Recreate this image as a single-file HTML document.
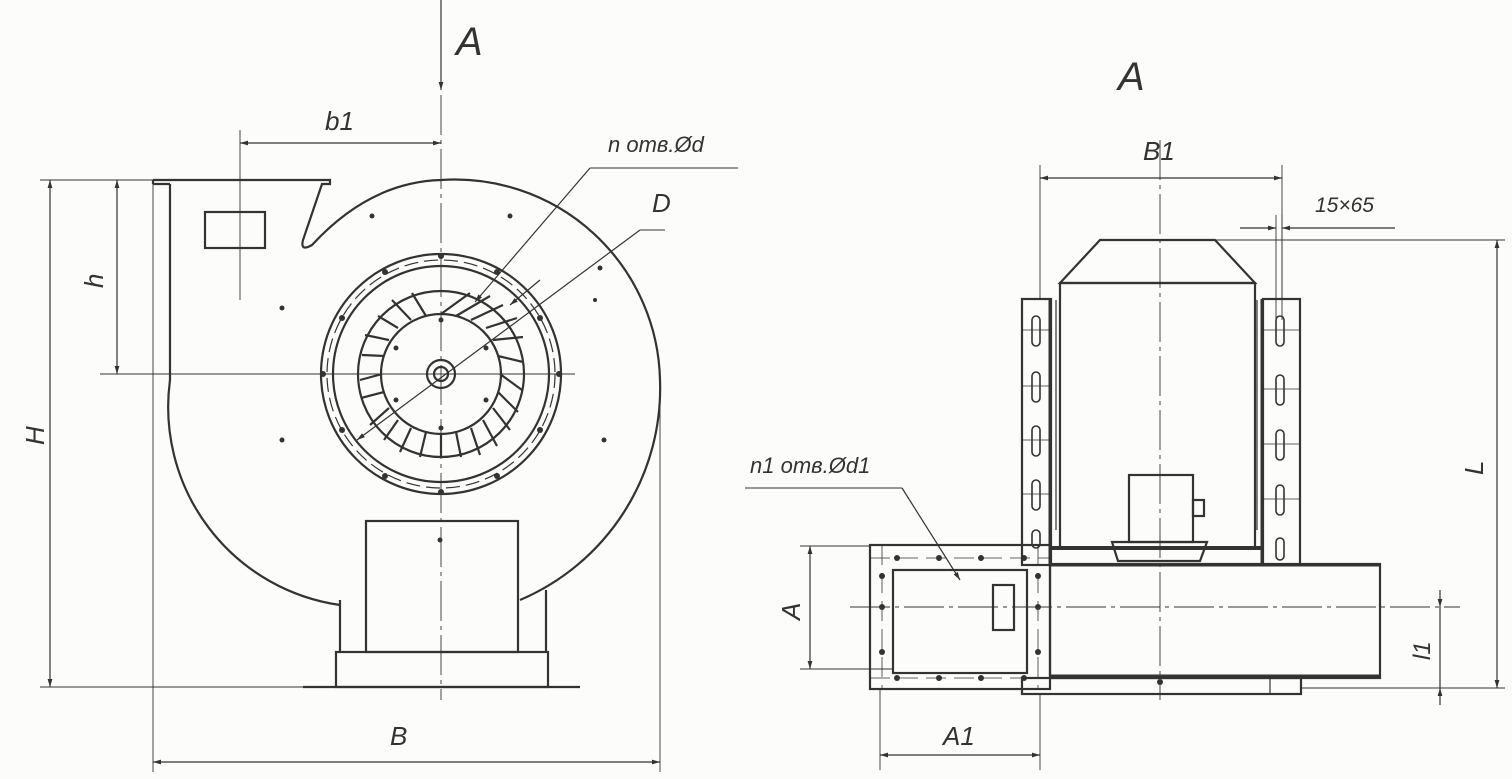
<!DOCTYPE html>
<html><head><meta charset="utf-8"><style>
html,body{margin:0;padding:0;background:#fcfcfa;}
svg{display:block;}
text{font-family:"Liberation Sans","DejaVu Sans",sans-serif;font-style:italic;fill:#333;}
</style></head><body>
<svg width="1512" height="779" viewBox="0 0 1512 779" xmlns="http://www.w3.org/2000/svg">
<defs>
<marker id="ar" viewBox="0 0 10 10" refX="10" refY="5" markerWidth="12" markerHeight="8" orient="auto-start-reverse" markerUnits="userSpaceOnUse"><path d="M0,2 L10,5 L0,8 z" fill="#333"/></marker>
</defs>
<g stroke="#333" fill="none" stroke-width="1.2">
<!-- ===== LEFT VIEW ===== -->
<!-- section arrow A -->
<line x1="441" y1="0" x2="441" y2="90" marker-end="url(#ar)"/>
<!-- center lines -->
<line x1="441" y1="95" x2="441" y2="700" stroke-dasharray="40,5,4,5" stroke-width="0.9"/>
<line x1="100" y1="374" x2="575" y2="374" stroke-width="0.9"/>
<!-- housing -->
<g stroke-width="2.2">
<path d="M153 180 L330 180 L330 184 L322 184 L303 240 Q300 252 312 245 Q370 182 441 180 A205 205 0 0 1 660 380 A230 230 0 0 1 520 600"/>
<path d="M170 184 L170 380 A200 200 0 0 0 340 605"/>
<line x1="153" y1="180" x2="153" y2="184"/>
<line x1="153" y1="184" x2="170" y2="184"/>
<rect x="205" y="212" width="60" height="36"/>
<rect x="366" y="521" width="152" height="131"/>
<rect x="336" y="652" width="212" height="35"/>
<line x1="303" y1="687" x2="580" y2="687"/>
<line x1="340" y1="600" x2="340" y2="652"/>
<line x1="546" y1="590" x2="546" y2="652"/>
<circle cx="441" cy="374" r="120"/>
<circle cx="441" cy="374" r="108"/>
<circle cx="441" cy="374" r="83"/>
<circle cx="441" cy="374" r="60"/>
<circle cx="441" cy="374" r="14"/>
<circle cx="441" cy="374" r="7"/>
</g>
<circle cx="441" cy="374" r="114" stroke-dasharray="14,6"/>
<line x1="365" y1="521" x2="365" y2="521"/>
<!-- impeller blades -->
<g stroke-width="2.2">
<path d="M441 314 L470 293 M471 320 L503 305 M493 340 L523 337 M500 374 L522 390 M493 408 L510 430 M471 428 L480 455 M441 434 L441 457 M411 428 L400 452 M389 408 L370 425 M382 374 L360 380 M389 340 L365 335 M411 320 L392 300 M456 316 L490 296 M486 328 L517 318 M498 356 L523 362 M498 392 L518 412 M483 420 L497 446 M456 432 L461 457 M426 432 L420 457 M398 420 L384 440 M384 392 L361 398 M384 356 L362 355 M398 328 L378 316 M426 316 L412 293"/>
</g>
<!-- dots -->
<g fill="#333" stroke="none">
<circle cx="441" cy="256" r="3"/><circle cx="441" cy="492" r="3"/><circle cx="323" cy="374" r="3"/><circle cx="559" cy="374" r="3"/>
<circle cx="385" cy="272" r="3"/><circle cx="497" cy="272" r="3"/><circle cx="385" cy="476" r="3"/><circle cx="497" cy="476" r="3"/>
<circle cx="342" cy="318" r="3"/><circle cx="540" cy="318" r="3"/><circle cx="342" cy="430" r="3"/><circle cx="540" cy="430" r="3"/>
<circle cx="441" cy="320" r="2.5"/><circle cx="441" cy="428" r="2.5"/><circle cx="396" cy="348" r="2.5"/><circle cx="486" cy="348" r="2.5"/><circle cx="396" cy="400" r="2.5"/><circle cx="486" cy="400" r="2.5"/>
<circle cx="372" cy="216" r="2.5"/><circle cx="510" cy="216" r="2.5"/><circle cx="600" cy="268" r="2.5"/><circle cx="282" cy="308" r="2.5"/><circle cx="282" cy="440" r="2.5"/><circle cx="604" cy="440" r="2.5"/><circle cx="440" cy="540" r="2.5"/><circle cx="595" cy="300" r="2"/>
</g>
<!-- dimensions left -->
<line x1="40" y1="180" x2="153" y2="180" stroke-width="0.9"/>
<line x1="40" y1="687" x2="303" y2="687" stroke-width="0.9"/>
<line x1="50" y1="180" x2="50" y2="687" marker-start="url(#ar)" marker-end="url(#ar)"/>
<line x1="105" y1="374" x2="441" y2="374" stroke-width="0.9"/>
<line x1="117" y1="180" x2="117" y2="374" marker-start="url(#ar)" marker-end="url(#ar)"/>
<line x1="240" y1="130" x2="240" y2="300" stroke-width="0.9"/>
<line x1="240" y1="143" x2="441" y2="143" marker-start="url(#ar)" marker-end="url(#ar)"/>
<line x1="153" y1="184" x2="153" y2="772" stroke-width="0.9"/>
<line x1="660" y1="380" x2="660" y2="772" stroke-width="0.9"/>
<line x1="153" y1="762" x2="660" y2="762" marker-start="url(#ar)" marker-end="url(#ar)"/>
<!-- leaders -->
<line x1="590" y1="168" x2="738" y2="168" stroke-width="0.9"/>
<line x1="590" y1="168" x2="475" y2="302" marker-end="url(#ar)"/>
<line x1="640" y1="230" x2="665" y2="230" stroke-width="0.9"/>
<line x1="640" y1="230" x2="357" y2="440" marker-end="url(#ar)"/>
<line x1="540" y1="280" x2="510" y2="305" marker-end="url(#ar)"/>

<!-- ===== RIGHT VIEW ===== -->
<line x1="1160" y1="140" x2="1160" y2="700" stroke-dasharray="40,5,4,5" stroke-width="0.9"/>
<line x1="850" y1="607" x2="1460" y2="607" stroke-dasharray="40,5,4,5" stroke-width="0.9"/>
<g stroke-width="2.2">
<path d="M1100 240 L1215 240 L1255 283 L1060 283 Z"/>
<rect x="1060" y="283" width="195" height="265"/>
<rect x="1022" y="299" width="29" height="266"/>
<rect x="1263" y="299" width="37" height="266"/>
<rect x="1050" y="564" width="330" height="114"/>
<rect x="1022" y="678" width="279" height="16"/>
<rect x="870" y="545" width="180" height="144"/>
<rect x="893" y="570" width="134" height="103"/>
<rect x="993" y="585" width="21" height="45"/>
<rect x="1129" y="475" width="64" height="67"/>
<rect x="1193" y="500" width="11" height="16"/>
<path d="M1112 542 L1207 542 L1200 561 L1118 561 Z"/>
<line x1="1050" y1="548" x2="1263" y2="548" stroke-width="4"/>
<line x1="1050" y1="299" x2="1050" y2="565" stroke-width="3"/>
<line x1="1262" y1="299" x2="1262" y2="565" stroke-width="3"/>
<line x1="1050" y1="565" x2="1380" y2="565" stroke-width="3"/>
<line x1="1050" y1="676" x2="1380" y2="676" stroke-width="3"/>
</g>
<line x1="1056" y1="300" x2="1056" y2="530"/>
<line x1="1257" y1="300" x2="1257" y2="530"/>
<line x1="1270" y1="678" x2="1270" y2="694"/>
<!-- slots -->
<g stroke-width="1.6">
<rect x="1032" y="316" width="8" height="30" rx="4"/><rect x="1032" y="372" width="8" height="30" rx="4"/><rect x="1032" y="426" width="8" height="30" rx="4"/><rect x="1032" y="480" width="8" height="30" rx="4"/><rect x="1032" y="530" width="8" height="18" rx="4"/>
<rect x="1276" y="316" width="8" height="30" rx="4"/><rect x="1276" y="375" width="8" height="30" rx="4"/><rect x="1276" y="430" width="8" height="30" rx="4"/><rect x="1276" y="485" width="8" height="30" rx="4"/><rect x="1276" y="538" width="8" height="22" rx="4"/>
</g>
<g stroke-width="0.8">
<line x1="1022" y1="330" x2="1051" y2="330"/><line x1="1022" y1="386" x2="1051" y2="386"/><line x1="1022" y1="440" x2="1051" y2="440"/><line x1="1022" y1="494" x2="1051" y2="494"/>
<line x1="1263" y1="330" x2="1300" y2="330"/><line x1="1263" y1="389" x2="1300" y2="389"/><line x1="1263" y1="444" x2="1300" y2="444"/><line x1="1263" y1="499" x2="1300" y2="499"/>
<!-- flange bolt lines -->
<line x1="870" y1="558" x2="1050" y2="558" stroke-dasharray="20,8"/>
<line x1="870" y1="678" x2="1050" y2="678" stroke-dasharray="20,8"/>
<line x1="882" y1="545" x2="882" y2="689" stroke-dasharray="20,8"/>
<line x1="1038" y1="545" x2="1038" y2="689" stroke-dasharray="20,8"/>
</g>
<g fill="#333" stroke="none">
<circle cx="897" cy="558" r="3"/><circle cx="939" cy="558" r="3"/><circle cx="981" cy="558" r="3"/><circle cx="1024" cy="558" r="3"/>
<circle cx="897" cy="678" r="3"/><circle cx="939" cy="678" r="3"/><circle cx="981" cy="678" r="3"/><circle cx="1024" cy="678" r="3"/>
<circle cx="882" cy="576" r="3"/><circle cx="882" cy="607" r="3"/><circle cx="882" cy="652" r="3"/>
<circle cx="1038" cy="576" r="3"/><circle cx="1038" cy="607" r="3"/><circle cx="1038" cy="652" r="3"/>
<circle cx="1160" cy="682" r="3"/>
</g>
<!-- dims right -->
<line x1="1040" y1="165" x2="1040" y2="300" stroke-width="0.9"/>
<line x1="1282" y1="165" x2="1282" y2="300" stroke-width="0.9"/>
<line x1="1040" y1="178" x2="1282" y2="178" marker-start="url(#ar)" marker-end="url(#ar)"/>
<line x1="1276" y1="215" x2="1276" y2="320" stroke-width="0.9"/>
<line x1="1282" y1="215" x2="1282" y2="320" stroke-width="0.9"/>
<line x1="1240" y1="228" x2="1276" y2="228" marker-end="url(#ar)"/>
<line x1="1282" y1="228" x2="1395" y2="228" marker-start="url(#ar)"/>
<line x1="1215" y1="240" x2="1505" y2="240" stroke-width="0.9"/>
<line x1="1301" y1="688" x2="1505" y2="688" stroke-width="0.9"/>
<line x1="1497" y1="240" x2="1497" y2="688" marker-start="url(#ar)" marker-end="url(#ar)"/>
<line x1="1440" y1="590" x2="1440" y2="607" marker-end="url(#ar)"/>
<line x1="1440" y1="705" x2="1440" y2="688" marker-end="url(#ar)"/>
<line x1="1440" y1="607" x2="1440" y2="688"/>
<line x1="800" y1="546" x2="870" y2="546" stroke-width="0.9"/>
<line x1="800" y1="669" x2="893" y2="669" stroke-width="0.9"/>
<line x1="810" y1="546" x2="810" y2="669" marker-start="url(#ar)" marker-end="url(#ar)"/>
<line x1="880" y1="689" x2="880" y2="770" stroke-width="0.9"/>
<line x1="1040" y1="694" x2="1040" y2="770" stroke-width="0.9"/>
<line x1="880" y1="755" x2="1040" y2="755" marker-start="url(#ar)" marker-end="url(#ar)"/>
<line x1="745" y1="488" x2="902" y2="488" stroke-width="0.9"/>
<line x1="902" y1="488" x2="960" y2="580" marker-end="url(#ar)"/>
</g>
<!-- text -->
<text x="456" y="55" font-size="40">A</text>
<text x="1118" y="90" font-size="40">A</text>
<text x="325" y="130" font-size="26">b1</text>
<text x="390" y="745" font-size="26">B</text>
<text x="608" y="152" font-size="22">n отв.Ød</text>
<text x="652" y="212" font-size="26">D</text>
<text x="1143" y="160" font-size="26">B1</text>
<text x="1315" y="212" font-size="21">15×65</text>
<text x="750" y="473" font-size="22">n1 отв.Ød1</text>
<text x="943" y="745" font-size="26">A1</text>
<text font-size="26" transform="translate(44,445) rotate(-90)">H</text>
<text font-size="26" transform="translate(103,288) rotate(-90)">h</text>
<text font-size="26" transform="translate(800,620) rotate(-90)">A</text>
<text font-size="26" transform="translate(1483,475) rotate(-90)">L</text>
<text font-size="24" transform="translate(1430,660) rotate(-90)">l1</text>
</svg>
</body></html>
